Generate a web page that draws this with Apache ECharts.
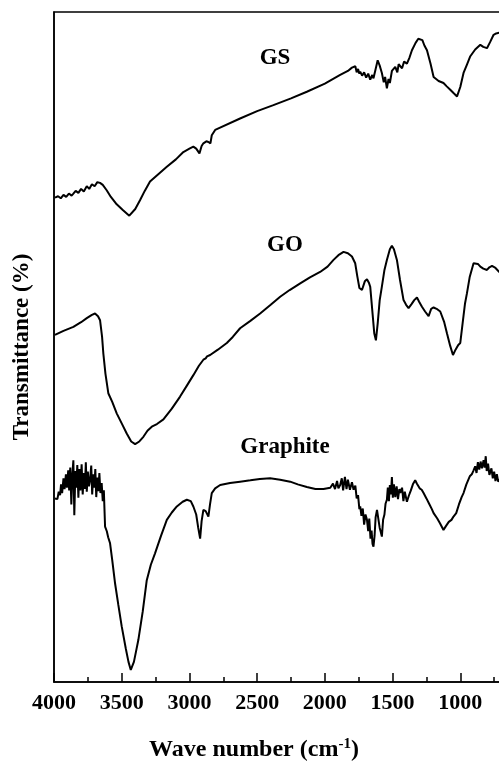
<!DOCTYPE html>
<html>
<head>
<meta charset="utf-8">
<script src="https://cdn.jsdelivr.net/npm/echarts@6/dist/echarts.min.js"></script>
<style>
  html, body { margin: 0; padding: 0; background: #fff; }
  #chart { width: 499px; height: 765px; }
</style>
</head>
<body>
<div id="chart"></div>
<script>
// FTIR spectra: wavenumber (cm-1) and transmittance (arbitrary, offset per sample)
const gsWave = [3993,3970,3950,3930,3910,3890,3870,3857,3840,3820,3800,3780,3758,3740,3720,3700,3680,3660,3640,3611,3580,3537,3490,3444,3400,3365,3330,3291,3230,3167,3100,3045,3000,2971,2950,2926,2910,2897,2875,2860,2845,2835,2810,2626,2500,2380,2250,2133,2000,1887,1830,1800,1788,1775,1765,1755,1745,1739,1725,1710,1695,1680,1665,1650,1641,1625,1610,1604,1595,1579,1565,1555,1542,1530,1520,1505,1493,1480,1465,1455,1443,1430,1415,1394,1375,1357,1330,1310,1296,1280,1265,1246,1220,1197,1160,1124,1100,1074,1050,1024,1000,976,950,926,890,852,830,803,780,754,735,712,680];
const gsT = [72.3,72.5,72.2,72.7,72.4,72.9,72.6,72.9,73.3,73.0,73.6,73.2,74.0,73.6,74.3,74.0,74.6,74.5,74.2,73.4,72.4,71.3,70.4,69.6,70.6,71.9,73.3,74.7,75.8,76.9,78.0,79.1,79.6,79.9,79.6,78.9,80.0,80.4,80.7,80.6,80.4,81.6,82.4,84.1,85.2,86.1,87.1,88.1,89.3,90.6,91.2,91.7,91.6,91.9,91.0,91.5,90.8,91.1,90.5,91.0,90.2,90.8,89.9,90.6,90.1,91.5,92.8,92.8,92.0,90.9,89.5,90.3,88.6,90.0,89.4,91.2,91.1,91.8,91.0,92.2,92.3,91.6,92.6,92.3,93.2,94.3,95.4,96.0,96.2,95.8,95.0,94.3,92.3,90.3,89.7,89.4,88.9,88.4,87.9,87.4,88.8,90.9,92.2,93.4,94.4,95.1,94.8,94.6,95.5,96.6,96.8,96.9,97.0];

const goWave = [3993,3930,3857,3800,3758,3720,3697,3675,3660,3645,3636,3620,3599,3570,3537,3500,3463,3430,3401,3370,3340,3310,3278,3240,3192,3130,3069,3020,2971,2930,2897,2880,2870,2847,2790,2724,2680,2626,2550,2478,2400,2330,2260,2182,2110,2035,1980,1936,1900,1862,1830,1800,1776,1760,1745,1726,1705,1689,1675,1665,1650,1635,1623,1610,1595,1579,1560,1542,1520,1505,1490,1468,1445,1419,1400,1382,1360,1340,1320,1305,1283,1260,1234,1215,1197,1175,1148,1120,1098,1075,1054,1035,1015,1000,980,965,951,930,902,870,852,830,803,785,766,740,712,680];
const goT = [51.8,52.4,53.0,53.7,54.3,54.8,55.0,54.6,54.0,51.5,49.1,46.0,43.1,41.8,40.1,38.6,37.1,35.9,35.5,35.9,36.6,37.5,38.1,38.5,39.2,40.8,42.6,44.2,45.8,47.2,48.1,48.3,48.6,48.8,49.6,50.6,51.5,52.8,53.9,55.0,56.3,57.5,58.5,59.5,60.4,61.2,62.0,63.0,63.7,64.2,64.0,63.5,62.5,60.5,58.8,58.5,59.8,60.1,59.6,59.0,55.5,52.0,51.0,53.5,57.0,59.0,61.5,63.0,64.6,65.1,64.6,63.0,60.0,57.0,56.3,55.8,56.4,57.0,57.4,56.8,56.0,55.3,54.6,55.7,55.9,55.7,55.3,53.8,52.0,50.2,48.8,49.6,50.3,50.6,54.0,56.5,58.0,60.5,62.5,62.4,62.0,61.7,61.5,61.9,62.1,61.8,61.2,60.8];

const graphiteWave = [3993,3985,3975,3965,3955,3948,3940,3930,3922,3912,3905,3895,3888,3880,3872,3865,3857,3850,3842,3835,3828,3820,3812,3805,3796,3788,3780,3772,3765,3758,3750,3742,3734,3725,3718,3710,3702,3695,3688,3680,3672,3665,3657,3648,3640,3632,3623,3610,3600,3586,3570,3549,3525,3500,3470,3450,3433,3410,3395,3377,3345,3315,3285,3254,3210,3167,3130,3093,3050,3019,2990,2971,2950,2935,2921,2910,2897,2880,2860,2848,2835,2810,2773,2700,2626,2550,2480,2404,2330,2256,2200,2133,2070,2010,1960,1940,1925,1910,1900,1887,1875,1865,1852,1840,1830,1815,1800,1788,1775,1765,1755,1745,1739,1730,1720,1710,1700,1689,1680,1672,1663,1655,1648,1641,1633,1625,1615,1604,1595,1587,1579,1570,1560,1552,1542,1535,1527,1520,1512,1505,1498,1490,1480,1470,1460,1450,1443,1430,1420,1410,1394,1380,1365,1350,1333,1320,1300,1285,1271,1250,1230,1210,1197,1170,1150,1124,1105,1085,1065,1050,1030,1010,990,976,955,930,915,902,890,880,870,860,850,840,828,820,812,805,795,785,778,770,760,750,740,730,720,712,700,690,680];
const graphiteT = [27.4,27.6,27.3,28.4,27.9,29.5,28.2,30.4,28.8,31.0,29.0,31.6,28.6,32.0,26.5,30.8,33.1,24.9,31.5,29.0,32.4,27.5,31.8,28.6,32.5,28.0,31.2,28.8,32.8,28.4,31.4,29.2,30.1,32.3,28.0,31.0,29.0,31.8,27.6,30.5,28.5,31.2,28.2,29.7,27.0,28.6,23.2,22.5,21.6,20.7,18.2,14.7,11.5,8.3,5.0,3.0,1.8,3.0,4.5,6.3,10.5,15.2,17.5,19.2,21.8,24.2,25.3,26.2,26.9,27.2,27.0,26.2,25.0,23.0,21.4,24.0,25.7,25.5,24.7,26.5,28.2,28.9,29.4,29.7,29.9,30.1,30.3,30.4,30.2,29.9,29.5,29.1,28.8,28.8,29.0,29.6,28.8,30.0,28.9,29.4,30.4,28.6,30.6,28.8,30.2,28.7,29.8,28.7,29.3,27.4,27.9,25.8,26.2,24.8,25.9,23.5,25.0,24.2,22.5,24.4,21.4,22.6,20.6,20.2,21.8,24.6,25.7,25.7,23.0,22.4,21.7,24.2,25.0,26.6,27.2,29.0,27.0,29.4,28.0,30.6,27.5,29.5,27.6,29.2,27.3,28.8,28.2,29.0,27.0,28.4,26.9,27.8,28.6,29.5,30.1,29.6,28.9,28.7,28.2,27.4,26.6,25.8,25.2,24.4,23.7,22.7,23.3,23.9,24.2,24.7,25.2,26.5,27.6,28.2,29.5,30.7,31.0,31.6,32.2,31.2,32.8,31.7,32.9,31.9,33.1,32.0,33.7,31.5,32.6,30.9,31.1,31.9,30.4,31.4,30.0,31.0,29.9,30.1,30.5,29.8,30.2];

const sampleNames = ['GS', 'GO', 'Graphite'];
const xTickMin = 500, xTickMax = 4000, xTickStep = 500;

function pairs(xs, ys) { return xs.map((x, i) => [x, ys[i]]); }

const serif = '"Liberation Serif", "DejaVu Serif", serif';
const chart = echarts.init(document.getElementById('chart'), null, { renderer: 'canvas' });

const lineSeries = (name, xs, ys) => ({
  name, type: 'line', data: pairs(xs, ys), showSymbol: false, symbol: 'none',
  lineStyle: { color: '#000', width: 2 }, animation: false, clip: true
});

chart.setOption({
  backgroundColor: '#fff',
  animation: false,
  grid: {
    left: 54, top: 12, right: -29, bottom: 83,
    containLabel: false, outerBoundsMode: 'none',
    show: true, borderColor: '#000', borderWidth: 1.5, backgroundColor: 'transparent'
  },
  xAxis: {
    type: 'value', inverse: true, min: xTickMin, max: xTickMax, interval: xTickStep,
    axisLine: { show: true, lineStyle: { color: '#000', width: 1.5 } },
    axisTick: { show: true, inside: true, length: 9, lineStyle: { color: '#000', width: 1.5 } },
    minorTick: { show: true, splitNumber: 2, length: 5, lineStyle: { color: '#000', width: 1.5 } },
    axisLabel: { color: '#000', fontFamily: serif, fontWeight: 'bold', fontSize: 22, margin: 10, formatter: v => String(v) },
    splitLine: { show: false }
  },
  yAxis: {
    type: 'value', min: 0, max: 100,
    name: 'Transmittance (%)', nameLocation: 'middle', nameGap: 20, nameRotate: 90,
    nameTextStyle: { color: '#000', fontFamily: serif, fontWeight: 'bold', fontSize: 23 },
    axisLine: { show: true, lineStyle: { color: '#000', width: 1.5 } },
    axisTick: { show: false }, axisLabel: { show: false }, splitLine: { show: false }
  },
  graphic: [
    { type: 'text', x: 275, y: 58, style: { text: sampleNames[0], font: 'bold 23px ' + serif, fill: '#000', textAlign: 'center', textVerticalAlign: 'middle' } },
    { type: 'text', x: 285, y: 245, style: { text: sampleNames[1], font: 'bold 23px ' + serif, fill: '#000', textAlign: 'center', textVerticalAlign: 'middle' } },
    { type: 'text', x: 285, y: 447, style: { text: sampleNames[2], font: 'bold 23px ' + serif, fill: '#000', textAlign: 'center', textVerticalAlign: 'middle' } },
    { type: 'text', x: 254, y: 750, style: {
        text: 'Wave number (cm{sup|-1})', font: 'bold 24px ' + serif, fill: '#000',
        textAlign: 'center', textVerticalAlign: 'middle',
        rich: { sup: { fontFamily: serif, fontWeight: 'bold', fontSize: 15, verticalAlign: 'top', padding: [0, 0, 12, 0], fill: '#000' } }
    } }
  ],
  series: [
    lineSeries(sampleNames[0], gsWave, gsT),
    lineSeries(sampleNames[1], goWave, goT),
    lineSeries(sampleNames[2], graphiteWave, graphiteT)
  ]
});
</script>
</body>
</html>
